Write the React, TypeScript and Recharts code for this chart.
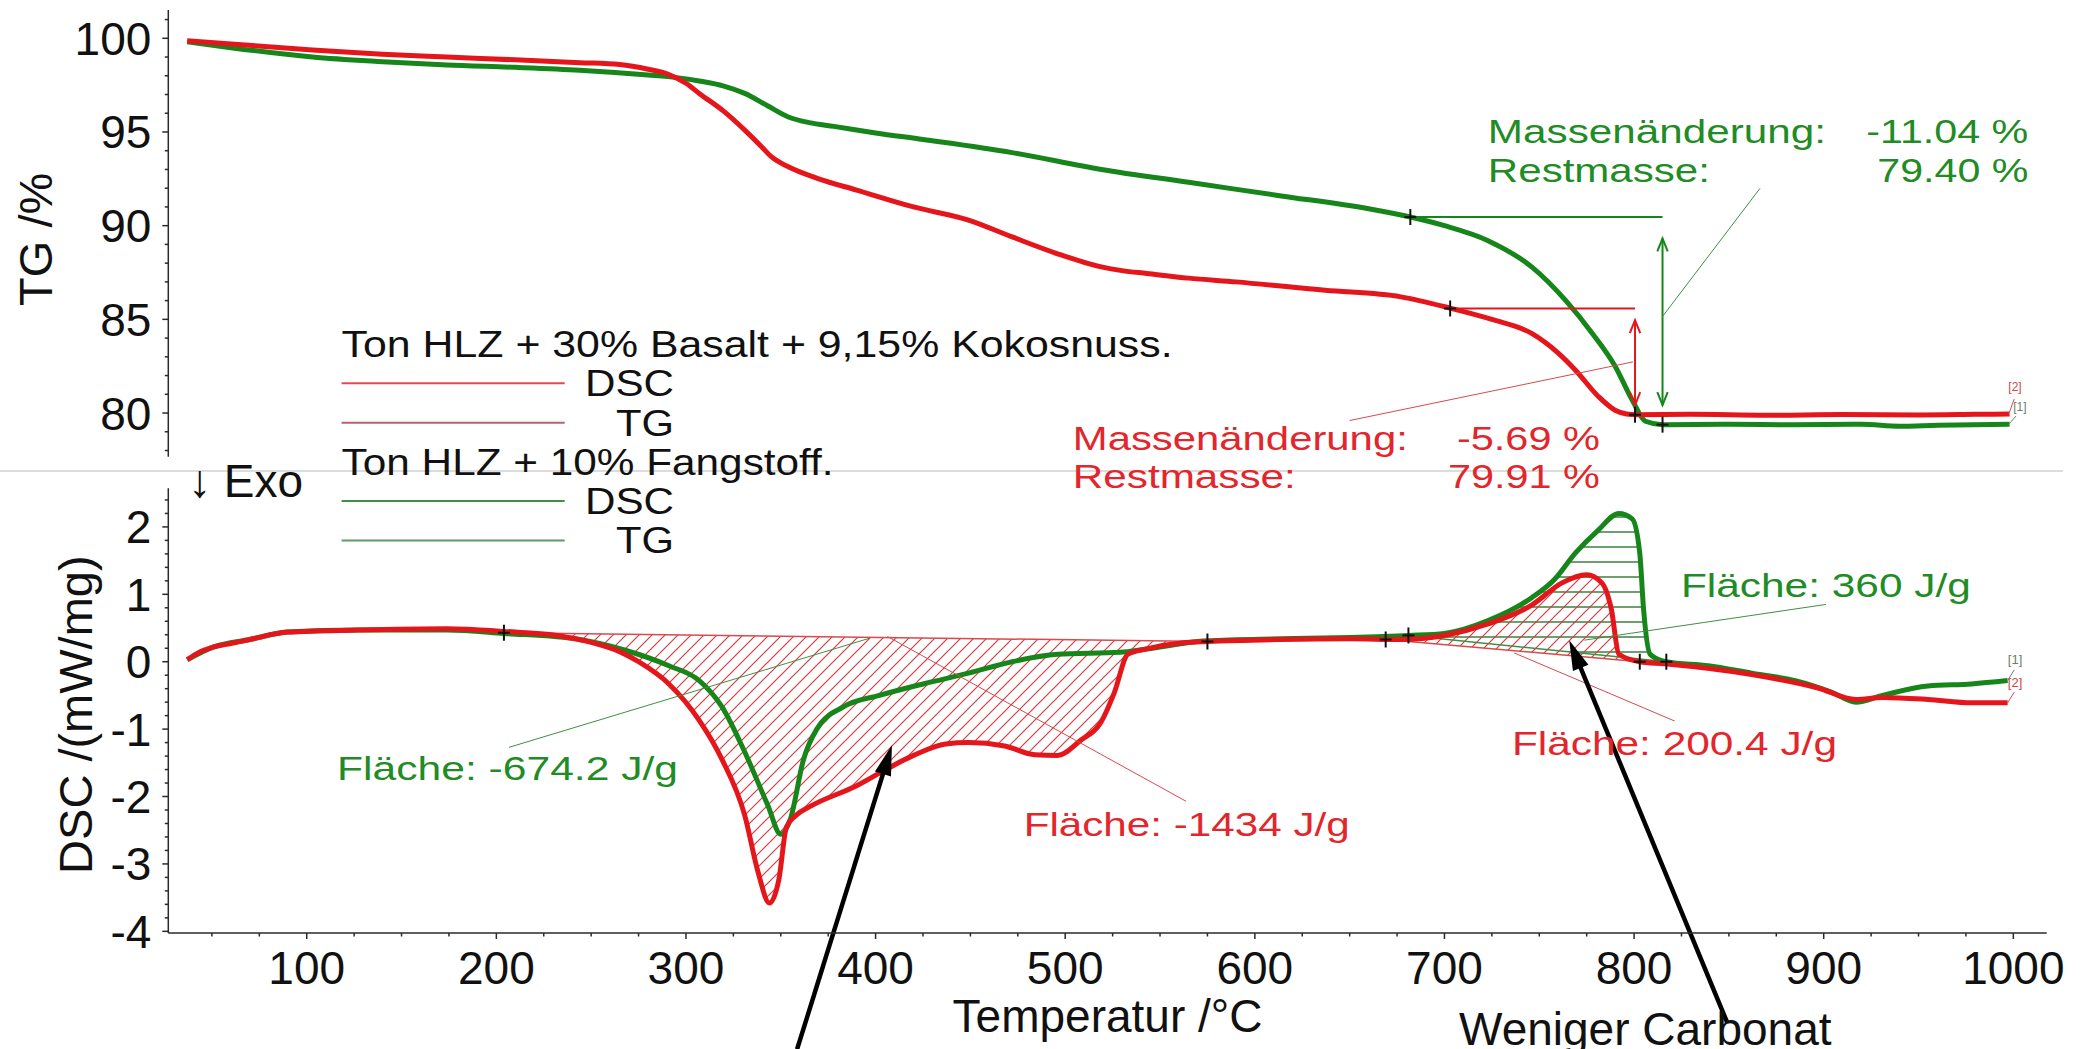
import React from 'react';
import { ComposedChart, Line, Area, XAxis, YAxis, ReferenceDot, ReferenceLine, Legend } from 'recharts';

const FONT = '"Liberation Sans", Arial, Helvetica, sans-serif';
const RED = '#e5161b';
const GREEN = '#16861b';
const RED_TXT = '#e2262b';
const GREEN_TXT = '#1f8c25';
const AXIS = '#2a2a2a';
const W = 2089;
const H = 1049;

// ---------- data (temperature °C, values) ----------
const TG_RED_T = [37, 60, 103, 140, 174, 210, 244, 265, 280, 290, 300, 307, 320, 331, 340, 345, 354, 370, 390, 420, 449, 472, 496, 519, 530, 543, 565, 590, 637, 677, 703, 725, 746, 760, 769, 781, 790, 796, 801, 830, 870, 910, 950, 980, 998];
const TG_RED_V = [99.87, 99.7, 99.38, 99.15, 99.0, 98.85, 98.7, 98.6, 98.35, 98.1, 97.6, 97.06, 96.1, 95.1, 94.2, 93.68, 93.14, 92.5, 91.9, 91.0, 90.3, 89.4, 88.5, 87.8, 87.6, 87.45, 87.2, 87.0, 86.55, 86.2, 85.6, 85.0, 84.25, 83.2, 82.3, 80.9, 80.15, 79.95, 79.91, 79.93, 79.88, 79.92, 79.9, 79.93, 79.95];

const TG_GREEN_T = [37, 60, 103, 140, 174, 210, 244, 280, 295, 307, 320, 331, 343, 354, 365, 378, 400, 425, 472, 519, 566, 613, 660, 682, 700, 723, 746, 764, 778, 790, 799, 806, 815, 850, 880, 920, 940, 960, 998];
const TG_GREEN_V = [99.82, 99.5, 99.0, 98.75, 98.57, 98.45, 98.3, 98.04, 97.9, 97.72, 97.45, 97.06, 96.4, 95.8, 95.5, 95.3, 94.95, 94.6, 93.9, 93.0, 92.3, 91.6, 90.9, 90.46, 90.0, 89.2, 87.8, 86.0, 84.25, 82.5, 80.7, 79.56, 79.38, 79.4, 79.38, 79.4, 79.3, 79.35, 79.4];

const DSC_RED_T = [37, 42, 51, 60, 70, 90, 127, 174, 204, 232, 251, 265, 275, 291, 307, 319, 331, 338, 344, 349, 353, 358, 366, 390, 406, 420, 437, 449, 468, 484, 496, 508, 519, 526, 533, 543, 562, 575, 614, 650, 677, 700, 723, 746, 762, 775, 783, 788, 792, 803, 816, 862, 897, 917, 931, 955, 978, 997];
const DSC_RED_V = [0.03, 0.12, 0.22, 0.27, 0.33, 0.44, 0.47, 0.49, 0.45, 0.39, 0.28, 0.15, 0.0, -0.33, -0.87, -1.45, -2.28, -3.12, -3.58, -3.23, -2.45, -2.28, -2.14, -1.84, -1.59, -1.39, -1.22, -1.2, -1.25, -1.38, -1.39, -1.17, -0.89, -0.45, 0.11, 0.19, 0.28, 0.3, 0.33, 0.34, 0.33, 0.39, 0.56, 0.84, 1.17, 1.29, 1.17, 0.78, 0.11, 0.0, -0.03, -0.19, -0.39, -0.56, -0.53, -0.56, -0.61, -0.61];

const DSC_GREEN_T = [37, 51, 70, 90, 127, 174, 204, 244, 268, 291, 307, 319, 331, 343, 350, 355, 362, 369, 383, 402, 425, 449, 472, 496, 529, 543, 575, 614, 650, 681, 700, 723, 746, 758, 769, 781, 792, 799, 803, 805, 808.5, 817, 839, 862, 885, 904, 917, 931, 955, 978, 997];
const DSC_GREEN_V = [0.03, 0.22, 0.33, 0.44, 0.47, 0.47, 0.42, 0.33, 0.17, -0.06, -0.28, -0.67, -1.34, -2.12, -2.56, -2.34, -1.45, -1.0, -0.67, -0.5, -0.33, -0.17, 0.0, 0.11, 0.14, 0.19, 0.31, 0.34, 0.36, 0.39, 0.42, 0.61, 0.95, 1.22, 1.61, 1.95, 2.2, 2.12, 1.61, 0.78, 0.11, 0.0, -0.06, -0.17, -0.28, -0.45, -0.6, -0.5, -0.36, -0.33, -0.28];

// evaluation baselines (start / end points)
const ENDO_BASE_RED = [{ t: 204, v: 0.43 }, { t: 575, v: 0.3 }];
const EXO_BASE_RED = [{ t: 669, v: 0.33 }, { t: 803, v: 0.0 }];
const EXO_BASE_GREEN = [{ t: 681, v: 0.39 }, { t: 817, v: 0.0 }];

// step evaluation (TG)
const STEP_RED = { start: { t: 703, v: 85.58 }, end: { t: 800.5, v: 79.91 } };
const STEP_GREEN = { start: { t: 682, v: 90.46 }, end: { t: 815, v: 79.38 } };

// axis ticks
const X_DOMAIN: [number, number] = [27, 1017.6];
const TG_DOMAIN: [number, number] = [77.67, 101.51];
const DSC_DOMAIN: [number, number] = [-4.025, 2.573];
const X_TICKS = [50, 75, 100, 125, 150, 175, 200, 225, 250, 275, 300, 325, 350, 375, 400, 425, 450, 475, 500, 525, 550, 575, 600, 625, 650, 675, 700, 725, 750, 775, 800, 825, 850, 875, 900, 925, 950, 975, 1000];
const TG_TICKS = [78, 79, 80, 81, 82, 83, 84, 85, 86, 87, 88, 89, 90, 91, 92, 93, 94, 95, 96, 97, 98, 99, 100, 101];
const DSC_TICKS = [-4, -3.8, -3.6, -3.4, -3.2, -3, -2.8, -2.6, -2.4, -2.2, -2, -1.8, -1.6, -1.4, -1.2, -1, -0.8, -0.6, -0.4, -0.2, 0, 0.2, 0.4, 0.6, 0.8, 1, 1.2, 1.4, 1.6, 1.8, 2, 2.2, 2.4];

const LEGEND_GROUPS = [
  { title: 'Ton HLZ + 30% Basalt + 9,15% Kokosnuss.', dsc: '#e24a4f', tg: '#b9606c', titleLen: 831 },
  { title: 'Ton HLZ + 10% Fangstoff.', dsc: '#3f8f44', tg: '#5c9a68', titleLen: 492 },
];

// ---------- helpers ----------
const zip = (ts: number[], vs: number[]) => ts.map((t, i) => ({ t, v: vs[i] }));

const hatchData = (ts: number[], vs: number[], base: { t: number; v: number }[]) => {
  const [a, b] = base;
  const bl = (t: number) => a.v + ((b.v - a.v) * (t - a.t)) / (b.t - a.t);
  const pts: { t: number; range: [number, number] }[] = [{ t: a.t, range: [a.v, a.v] }];
  ts.forEach((t, i) => {
    if (t > a.t && t < b.t) pts.push({ t, range: [bl(t), vs[i]] });
  });
  pts.push({ t: b.t, range: [b.v, b.v] });
  return pts;
};

const tgRed = zip(TG_RED_T, TG_RED_V);
const tgGreen = zip(TG_GREEN_T, TG_GREEN_V);
const dscRed = zip(DSC_RED_T, DSC_RED_V);
const dscGreen = zip(DSC_GREEN_T, DSC_GREEN_V);
const endoRedHatch = hatchData(DSC_RED_T, DSC_RED_V, ENDO_BASE_RED);
const exoRedHatch = hatchData(DSC_RED_T, DSC_RED_V, EXO_BASE_RED);
const exoGreenHatch = hatchData(DSC_GREEN_T, DSC_GREEN_V, EXO_BASE_GREEN);

const textShape = (text: string, o: { color: string; size: number; len?: number; anchor?: string }) => (p: any) => (
  <text
    x={p.cx}
    y={p.cy}
    fill={o.color}
    fontSize={o.size}
    fontFamily={FONT}
    textAnchor={o.anchor || 'start'}
    textLength={o.len}
    lengthAdjust={o.len ? 'spacingAndGlyphs' : undefined}
  >
    {text}
  </text>
);

const crossShape = (p: any) => (
  <g stroke="#111" strokeWidth={2}>
    <line x1={p.cx - 6} x2={p.cx + 6} y1={p.cy} y2={p.cy} />
    <line x1={p.cx} x2={p.cx} y1={p.cy - 8} y2={p.cy + 8} />
  </g>
);

const arrowShape = (color: string, width: number, head: number, both: boolean, filled: boolean) => (p: any) => {
  const { x1, y1, x2, y2 } = p;
  const ang = Math.atan2(y2 - y1, x2 - x1);
  const headAt = (x: number, y: number, a: number) => {
    const hw = filled ? head * 0.28 : head * 0.4;
    const bx = x - head * Math.cos(a);
    const by = y - head * Math.sin(a);
    const px = -Math.sin(a) * hw;
    const py = Math.cos(a) * hw;
    return filled ? (
      <polygon points={`${x},${y} ${bx + px},${by + py} ${bx - px},${by - py}`} fill={color} />
    ) : (
      <polyline points={`${bx + px},${by + py} ${x},${y} ${bx - px},${by - py}`} fill="none" stroke={color} strokeWidth={width} />
    );
  };
  const ex = filled ? x2 - head * 0.7 * Math.cos(ang) : x2;
  const ey = filled ? y2 - head * 0.7 * Math.sin(ang) : y2;
  return (
    <g>
      <line x1={x1} y1={y1} x2={ex} y2={ey} stroke={color} strokeWidth={width} />
      {headAt(x2, y2, ang)}
      {both ? headAt(x1, y1, ang + Math.PI) : null}
    </g>
  );
};

const seg = (key: string, a: [number, number], b: [number, number], color: string, width = 1.2, shape?: any) => (
  <ReferenceLine
    key={key}
    segment={[{ x: a[0], y: a[1] }, { x: b[0], y: b[1] }]}
    stroke={color}
    strokeWidth={width}
    ifOverflow="visible"
    shape={shape}
  />
);

const txt = (key: string, t: number, v: number, text: string, o: { color: string; size: number; len?: number; anchor?: string }) => (
  <ReferenceDot key={key} x={t} y={v} r={0} ifOverflow="visible" shape={textShape(text, o)} />
);

const mark = (key: string, t: number, v: number) => (
  <ReferenceDot key={key} x={t} y={v} r={0} ifOverflow="visible" shape={crossShape} />
);

// ---------- ticks / titles ----------
const xTick = (p: any) => {
  const v = p.payload.value;
  const major = v % 100 === 0;
  return (
    <g>
      <line x1={p.x} x2={p.x} y1={p.y} y2={p.y + (major ? 6 : 3.5)} stroke={AXIS} strokeWidth={1.5} />
      {major ? (
        <text x={p.x} y={p.y + 50.5} textAnchor="middle" fontSize={46} fontFamily={FONT} fill="#111">
          {v}
        </text>
      ) : null}
    </g>
  );
};

const yTickFactory = (isMajor: (v: number) => boolean) => (p: any) => {
  const v = p.payload.value;
  const major = isMajor(v);
  return (
    <g>
      <line x1={p.x - (major ? 6 : 3.5)} x2={p.x} y1={p.y} y2={p.y} stroke={AXIS} strokeWidth={1.5} />
      {major ? (
        <text x={p.x - 17} y={p.y + 16.5} textAnchor="end" fontSize={46} fontFamily={FONT} fill="#111">
          {Math.round(v)}
        </text>
      ) : null}
    </g>
  );
};
const tgTick = yTickFactory((v) => Math.abs(v % 5) < 1e-6);
const dscTick = yTickFactory((v) => Math.abs(v - Math.round(v)) < 1e-6);

const tgTitle = (p: any) => {
  const vb = p.viewBox;
  return (
    <text transform={`translate(${vb.x + 52},${vb.y + vb.height / 2 + 6}) rotate(-90)`} textAnchor="middle" fontSize={47} fontFamily={FONT} fill="#111">
      TG /%
    </text>
  );
};
const dscTitle = (p: any) => {
  const vb = p.viewBox;
  return (
    <text transform={`translate(${vb.x + 92},${vb.y + vb.height / 2 + 4}) rotate(-90)`} textAnchor="middle" fontSize={47} fontFamily={FONT} fill="#111">
      DSC /(mW/mg)
    </text>
  );
};
const xTitle = (p: any) => {
  const vb = p.viewBox;
  return (
    <text x={vb.x + vb.width / 2} y={vb.y + 99} textAnchor="middle" fontSize={46} fontFamily={FONT} fill="#111">
      Temperatur /°C
    </text>
  );
};

const LegendBox = () => (
  <svg width={900} height={250} style={{ display: 'block', overflow: 'visible' }}>
    {LEGEND_GROUPS.map((g, gi) => {
      const oy = gi * 117.7;
      return (
        <g key={g.title}>
          <text x={11.6} y={oy + 47.3} fontSize={36} fontFamily={FONT} fill="#111" textLength={g.titleLen} lengthAdjust="spacingAndGlyphs">
            {g.title}
          </text>
          <line x1={11.6} x2={234.7} y1={oy + 73.3} y2={oy + 73.3} stroke={g.dsc} strokeWidth={2} />
          <text x={344} y={oy + 86.2} textAnchor="end" fontSize={36} fontFamily={FONT} fill="#111" textLength={89} lengthAdjust="spacingAndGlyphs">
            DSC
          </text>
          <line x1={11.6} x2={234.7} y1={oy + 112.7} y2={oy + 112.7} stroke={g.tg} strokeWidth={2} />
          <text x={344} y={oy + 125.6} textAnchor="end" fontSize={36} fontFamily={FONT} fill="#111" textLength={58} lengthAdjust="spacingAndGlyphs">
            TG
          </text>
        </g>
      );
    })}
  </svg>
);

const greenThin = '#3f8f44';
const redThin = '#d84a4e';

export default function App() {
  return (
    <div style={{ position: 'absolute', left: 0, top: 0, width: W, height: H, background: '#fff', overflow: 'hidden', fontFamily: FONT }}>
      <div style={{ position: 'absolute', left: 0, top: 469.7, width: 2063, height: 2, background: '#dcdcdc' }} />
      {/* TG panel */}
      <div style={{ position: 'absolute', left: 0, top: 0 }}>
        <ComposedChart width={W} height={H} margin={{ top: 10, right: 42.3, bottom: 592.3, left: 0 }}>
          <XAxis type="number" dataKey="t" domain={X_DOMAIN} allowDataOverflow hide />
          <YAxis
            type="number"
            domain={TG_DOMAIN}
            allowDataOverflow
            ticks={TG_TICKS}
            interval={0}
            tick={tgTick}
            tickLine={false}
            tickSize={0}
            tickMargin={0}
            width={168.3}
            axisLine={{ stroke: AXIS, strokeWidth: 1.5 }}
            label={{ content: tgTitle }}
          />
          <Legend content={LegendBox} layout="horizontal" align="center" verticalAlign="middle" wrapperStyle={{ position: 'absolute', left: 330, top: 310, width: 900, height: 250 }} />
          <Line data={tgGreen} dataKey="v" name="TG Ton HLZ + 10% Fangstoff." type="monotone" stroke={GREEN} strokeWidth={5} dot={false} activeDot={false} isAnimationActive={false} />
          <Line data={tgRed} dataKey="v" name="TG Ton HLZ + 30% Basalt + 9,15% Kokosnuss." type="monotone" stroke={RED} strokeWidth={5} dot={false} activeDot={false} isAnimationActive={false} />

          {/* step evaluation lines */}
          {seg('gh', [STEP_GREEN.start.t, STEP_GREEN.start.v], [STEP_GREEN.end.t, STEP_GREEN.start.v], GREEN, 2)}
          {seg('ga', [STEP_GREEN.end.t, 89.32], [STEP_GREEN.end.t, 80.42], GREEN, 2, arrowShape(GREEN, 2, 13, true, false))}
          {seg('rh', [STEP_RED.start.t, STEP_RED.start.v], [STEP_RED.end.t, STEP_RED.start.v], RED, 2)}
          {seg('ra', [STEP_RED.end.t, 84.96], [STEP_RED.end.t, 80.42], RED, 2, arrowShape(RED, 2, 13, true, false))}
          {seg('gl', [866.4, 91.99], [814.9, 85.14], greenThin, 1)}
          {seg('rl', [650, 79.6], [799.4, 82.73], redThin, 1)}
          {seg('e2', [997.6, 79.95], [1000.5, 80.75], '#d05050', 1)}
          {seg('e1', [997.6, 79.4], [1001.5, 79.85], '#708070', 1)}

          {mark('m1', STEP_RED.start.t, STEP_RED.start.v)}
          {mark('m2', STEP_RED.end.t, STEP_RED.end.v)}
          {mark('m3', STEP_GREEN.start.t, STEP_GREEN.start.v)}
          {mark('m4', STEP_GREEN.end.t, STEP_GREEN.end.v)}

          {txt('t1', 722.9, 94.41, 'Massenänderung:', { color: GREEN_TXT, size: 33, len: 338 })}
          {txt('t2', 1007.9, 94.41, '-11.04 %', { color: GREEN_TXT, size: 33, len: 162, anchor: 'end' })}
          {txt('t3', 722.9, 92.33, 'Restmasse:', { color: GREEN_TXT, size: 33, len: 222 })}
          {txt('t4', 1007.9, 92.33, '79.40 %', { color: GREEN_TXT, size: 33, len: 151, anchor: 'end' })}
          {txt('t5', 504.0, 78.02, 'Massenänderung:', { color: RED_TXT, size: 33, len: 335 })}
          {txt('t6', 782.0, 78.02, '-5.69 %', { color: RED_TXT, size: 33, len: 143, anchor: 'end' })}
          {txt('t7', 504.0, 75.99, 'Restmasse:', { color: RED_TXT, size: 33, len: 223 })}
          {txt('t8', 782.0, 75.99, '79.91 %', { color: RED_TXT, size: 33, len: 152, anchor: 'end' })}
          {txt('b2', 1000.9, 81.15, '[2]', { color: '#d04848', size: 12, anchor: 'middle' })}
          {txt('b1', 1003.5, 80.1, '[1]', { color: '#6b7d6b', size: 12, anchor: 'middle' })}
        </ComposedChart>
      </div>

      {/* DSC panel */}
      <div style={{ position: 'absolute', left: 0, top: 0 }}>
        <ComposedChart width={W} height={H} margin={{ top: 488.3, right: 42.3, bottom: 0, left: 0 }}>
          <defs>
            <pattern id="hatchRed" patternUnits="userSpaceOnUse" width={13} height={13}>
              <path d="M-2,2 L2,-2 M0,13 L13,0 M11,15 L15,11" stroke="#d63b3f" strokeWidth={1.2} />
            </pattern>
            <pattern id="hatchGreen" patternUnits="userSpaceOnUse" width={20} height={15}>
              <line x1={0} x2={20} y1={7} y2={7} stroke="#3b7f3e" strokeWidth={1.5} />
            </pattern>
          </defs>
          <XAxis
            type="number"
            dataKey="t"
            domain={X_DOMAIN}
            allowDataOverflow
            ticks={X_TICKS}
            interval={0}
            tick={xTick}
            tickLine={false}
            tickSize={0}
            tickMargin={0}
            height={116}
            axisLine={{ stroke: AXIS, strokeWidth: 1.5 }}
            label={{ content: xTitle }}
          />
          <YAxis
            type="number"
            domain={DSC_DOMAIN}
            allowDataOverflow
            ticks={DSC_TICKS}
            interval={0}
            tick={dscTick}
            tickLine={false}
            tickSize={0}
            tickMargin={0}
            width={168.3}
            axisLine={{ stroke: AXIS, strokeWidth: 1.5 }}
            label={{ content: dscTitle }}
          />
          <Area data={endoRedHatch} dataKey="range" type="monotone" stroke="none" fill="url(#hatchRed)" fillOpacity={1} isAnimationActive={false} activeDot={false} />
          <Area data={exoGreenHatch} dataKey="range" type="monotone" stroke="none" fill="url(#hatchGreen)" fillOpacity={1} isAnimationActive={false} activeDot={false} />
          <Area data={exoRedHatch} dataKey="range" type="monotone" stroke="none" fill="url(#hatchRed)" fillOpacity={1} isAnimationActive={false} activeDot={false} />

          {seg('eb', [ENDO_BASE_RED[0].t, ENDO_BASE_RED[0].v], [ENDO_BASE_RED[1].t, ENDO_BASE_RED[1].v], redThin, 1.5)}
          {seg('xr', [EXO_BASE_RED[0].t, EXO_BASE_RED[0].v], [EXO_BASE_RED[1].t, EXO_BASE_RED[1].v], redThin, 1.5)}
          {seg('xg', [EXO_BASE_GREEN[0].t, EXO_BASE_GREEN[0].v], [EXO_BASE_GREEN[1].t, EXO_BASE_GREEN[1].v], greenThin, 1.5)}

          <Line data={dscGreen} dataKey="v" name="DSC Ton HLZ + 10% Fangstoff." type="monotone" stroke={GREEN} strokeWidth={5} dot={false} activeDot={false} isAnimationActive={false} />
          <Line data={dscRed} dataKey="v" name="DSC Ton HLZ + 30% Basalt + 9,15% Kokosnuss." type="monotone" stroke={RED} strokeWidth={5} dot={false} activeDot={false} isAnimationActive={false} />

          {seg('l1', [206.7, -1.27], [397, 0.35], greenThin, 1)}
          {seg('l2', [406.2, 0.375], [563.7, -2.07], redThin, 1)}
          {seg('l3', [901.2, 0.85], [773.8, 0.32], greenThin, 1)}
          {seg('l4', [821.4, -0.88], [736.8, 0.13], redThin, 1)}
          {seg('f1', [997, -0.28], [1000.5, -0.12], '#708070', 1)}
          {seg('f2', [997, -0.61], [1000.5, -0.45], '#d05050', 1)}

          {mark('d1', ENDO_BASE_RED[0].t, ENDO_BASE_RED[0].v)}
          {mark('d2', ENDO_BASE_RED[1].t, ENDO_BASE_RED[1].v)}
          {mark('d3', EXO_BASE_RED[0].t, EXO_BASE_RED[0].v)}
          {mark('d4', EXO_BASE_GREEN[0].t, EXO_BASE_GREEN[0].v)}
          {mark('d5', EXO_BASE_RED[1].t, EXO_BASE_RED[1].v)}
          {mark('d6', EXO_BASE_GREEN[1].t, EXO_BASE_GREEN[1].v)}

          {txt('a1', 116.0, -1.755, 'Fläche: -674.2 J/g', { color: GREEN_TXT, size: 33, len: 341 })}
          {txt('a2', 478.1, -2.582, 'Fläche: -1434 J/g', { color: RED_TXT, size: 33, len: 326 })}
          {txt('a3', 824.7, 0.96, 'Fläche: 360 J/g', { color: GREEN_TXT, size: 33, len: 290 })}
          {txt('a4', 735.6, -1.384, 'Fläche: 200.4 J/g', { color: RED_TXT, size: 33, len: 325 })}
          {txt('a5', 37.4, 2.448, '↓ Exo', { color: '#111', size: 46 })}
          {txt('a6', 1000.9, -0.034, '[1]', { color: '#6b7d6b', size: 13, anchor: 'middle' })}
          {txt('a7', 1000.9, -0.375, '[2]', { color: '#d04848', size: 13, anchor: 'middle' })}
          {txt('a8', 707.7, -5.69, 'Weniger Carbonat', { color: '#111', size: 46 })}

          {seg('k1', [358.6, -5.75], [408.6, -1.24], '#000', 4.5, arrowShape('#000', 4.5, 30, false, true))}
          {seg('k2', [849.2, -5.36], [765.8, 0.32], '#000', 4.5, arrowShape('#000', 4.5, 30, false, true))}
        </ComposedChart>
      </div>
    </div>
  );
}
